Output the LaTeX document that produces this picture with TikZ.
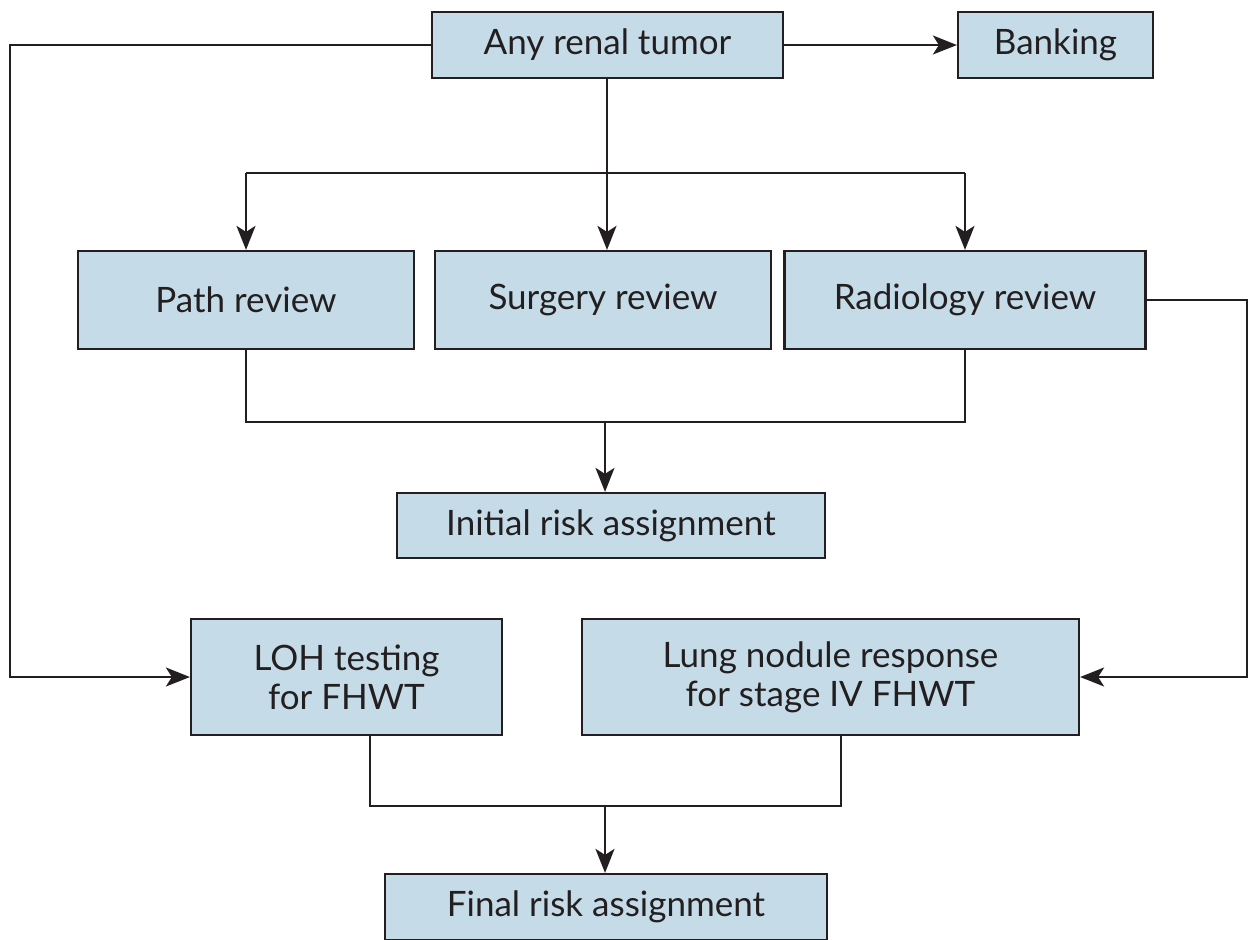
\documentclass[tikz,border=0pt]{standalone}
\usepackage{fontspec}
\setmainfont{Lato}
\usetikzlibrary{arrows.meta}
\definecolor{boxfill}{HTML}{C5DCE8}
\definecolor{ink}{HTML}{231F20}
\tikzset{
  box/.style={draw=ink, line width=2.2pt, fill=boxfill, inner sep=0pt, align=center,
    font=\fontsize{35}{39}\selectfont, text=ink},
  conn/.style={draw=ink, line width=2.4pt, line join=miter},
  arr/.style={conn, -{Stealth[length=24pt,width=19pt,inset=6pt]}}
}
\begin{document}
\begin{tikzpicture}[x=1pt,y=-1pt]
\useasboundingbox (0,0) rectangle (1254,940);
\node[box, minimum width=351pt, minimum height=66pt] (any) at (607.5,45) {Any renal tumor};
\node[box, minimum width=195pt, minimum height=66pt] (bank) at (1055.5,45) {Banking};
\node[box, minimum width=336pt, minimum height=98pt] (path) at (246,300) {Path review};
\node[box, minimum width=336pt, minimum height=98pt] (surg) at (603,300) {Surgery review};
\node[box, minimum width=361pt, minimum height=98pt] (rad) at (965,300) {Radiology review};
\node[box, minimum width=428pt, minimum height=65pt] (init) at (611,525.5) {Initial risk assignment};
\node[box, minimum width=311pt, minimum height=116pt] (loh) at (346.5,677) {LOH testing\\for FHWT};
\node[box, minimum width=497pt, minimum height=116pt] (lung) at (830.5,677) {Lung nodule response\\for stage IV FHWT};
\node[box, minimum width=442pt, minimum height=66pt] (final) at (606,907) {Final risk assignment};
\coordinate (lb) at (10,45);
\coordinate (rb) at (1247,300);
\coordinate (j1) at (607,173);
\coordinate (j2) at (605,422);
\coordinate (j3) at (605,806);
% left loop
\draw[arr] (any.west) -- (lb) |- (loh.west);
% banking
\draw[arr] (any.east) -- (bank.west);
% distribution
\draw[arr] (any.south -| j1) -- (surg.north -| j1);
\draw[conn] (path.north |- j1) -- (rad.north |- j1);
\draw[arr] (path.north |- j1) -- (path.north);
\draw[arr] (rad.north |- j1) -- (rad.north);
% right loop
\draw[arr] (rad.east) -- (rb) |- (lung.east);
% merge to initial
\draw[conn] (path.south) |- (j2) -| (rad.south);
\draw[arr] (j2) -- (init.north -| j2);
% merge to final
\draw[conn] (loh.south -| 370,0) |- (j3) -| (lung.south -| 841,0);
\draw[arr] (j3) -- (final.north -| j3);
\end{tikzpicture}
\end{document}
